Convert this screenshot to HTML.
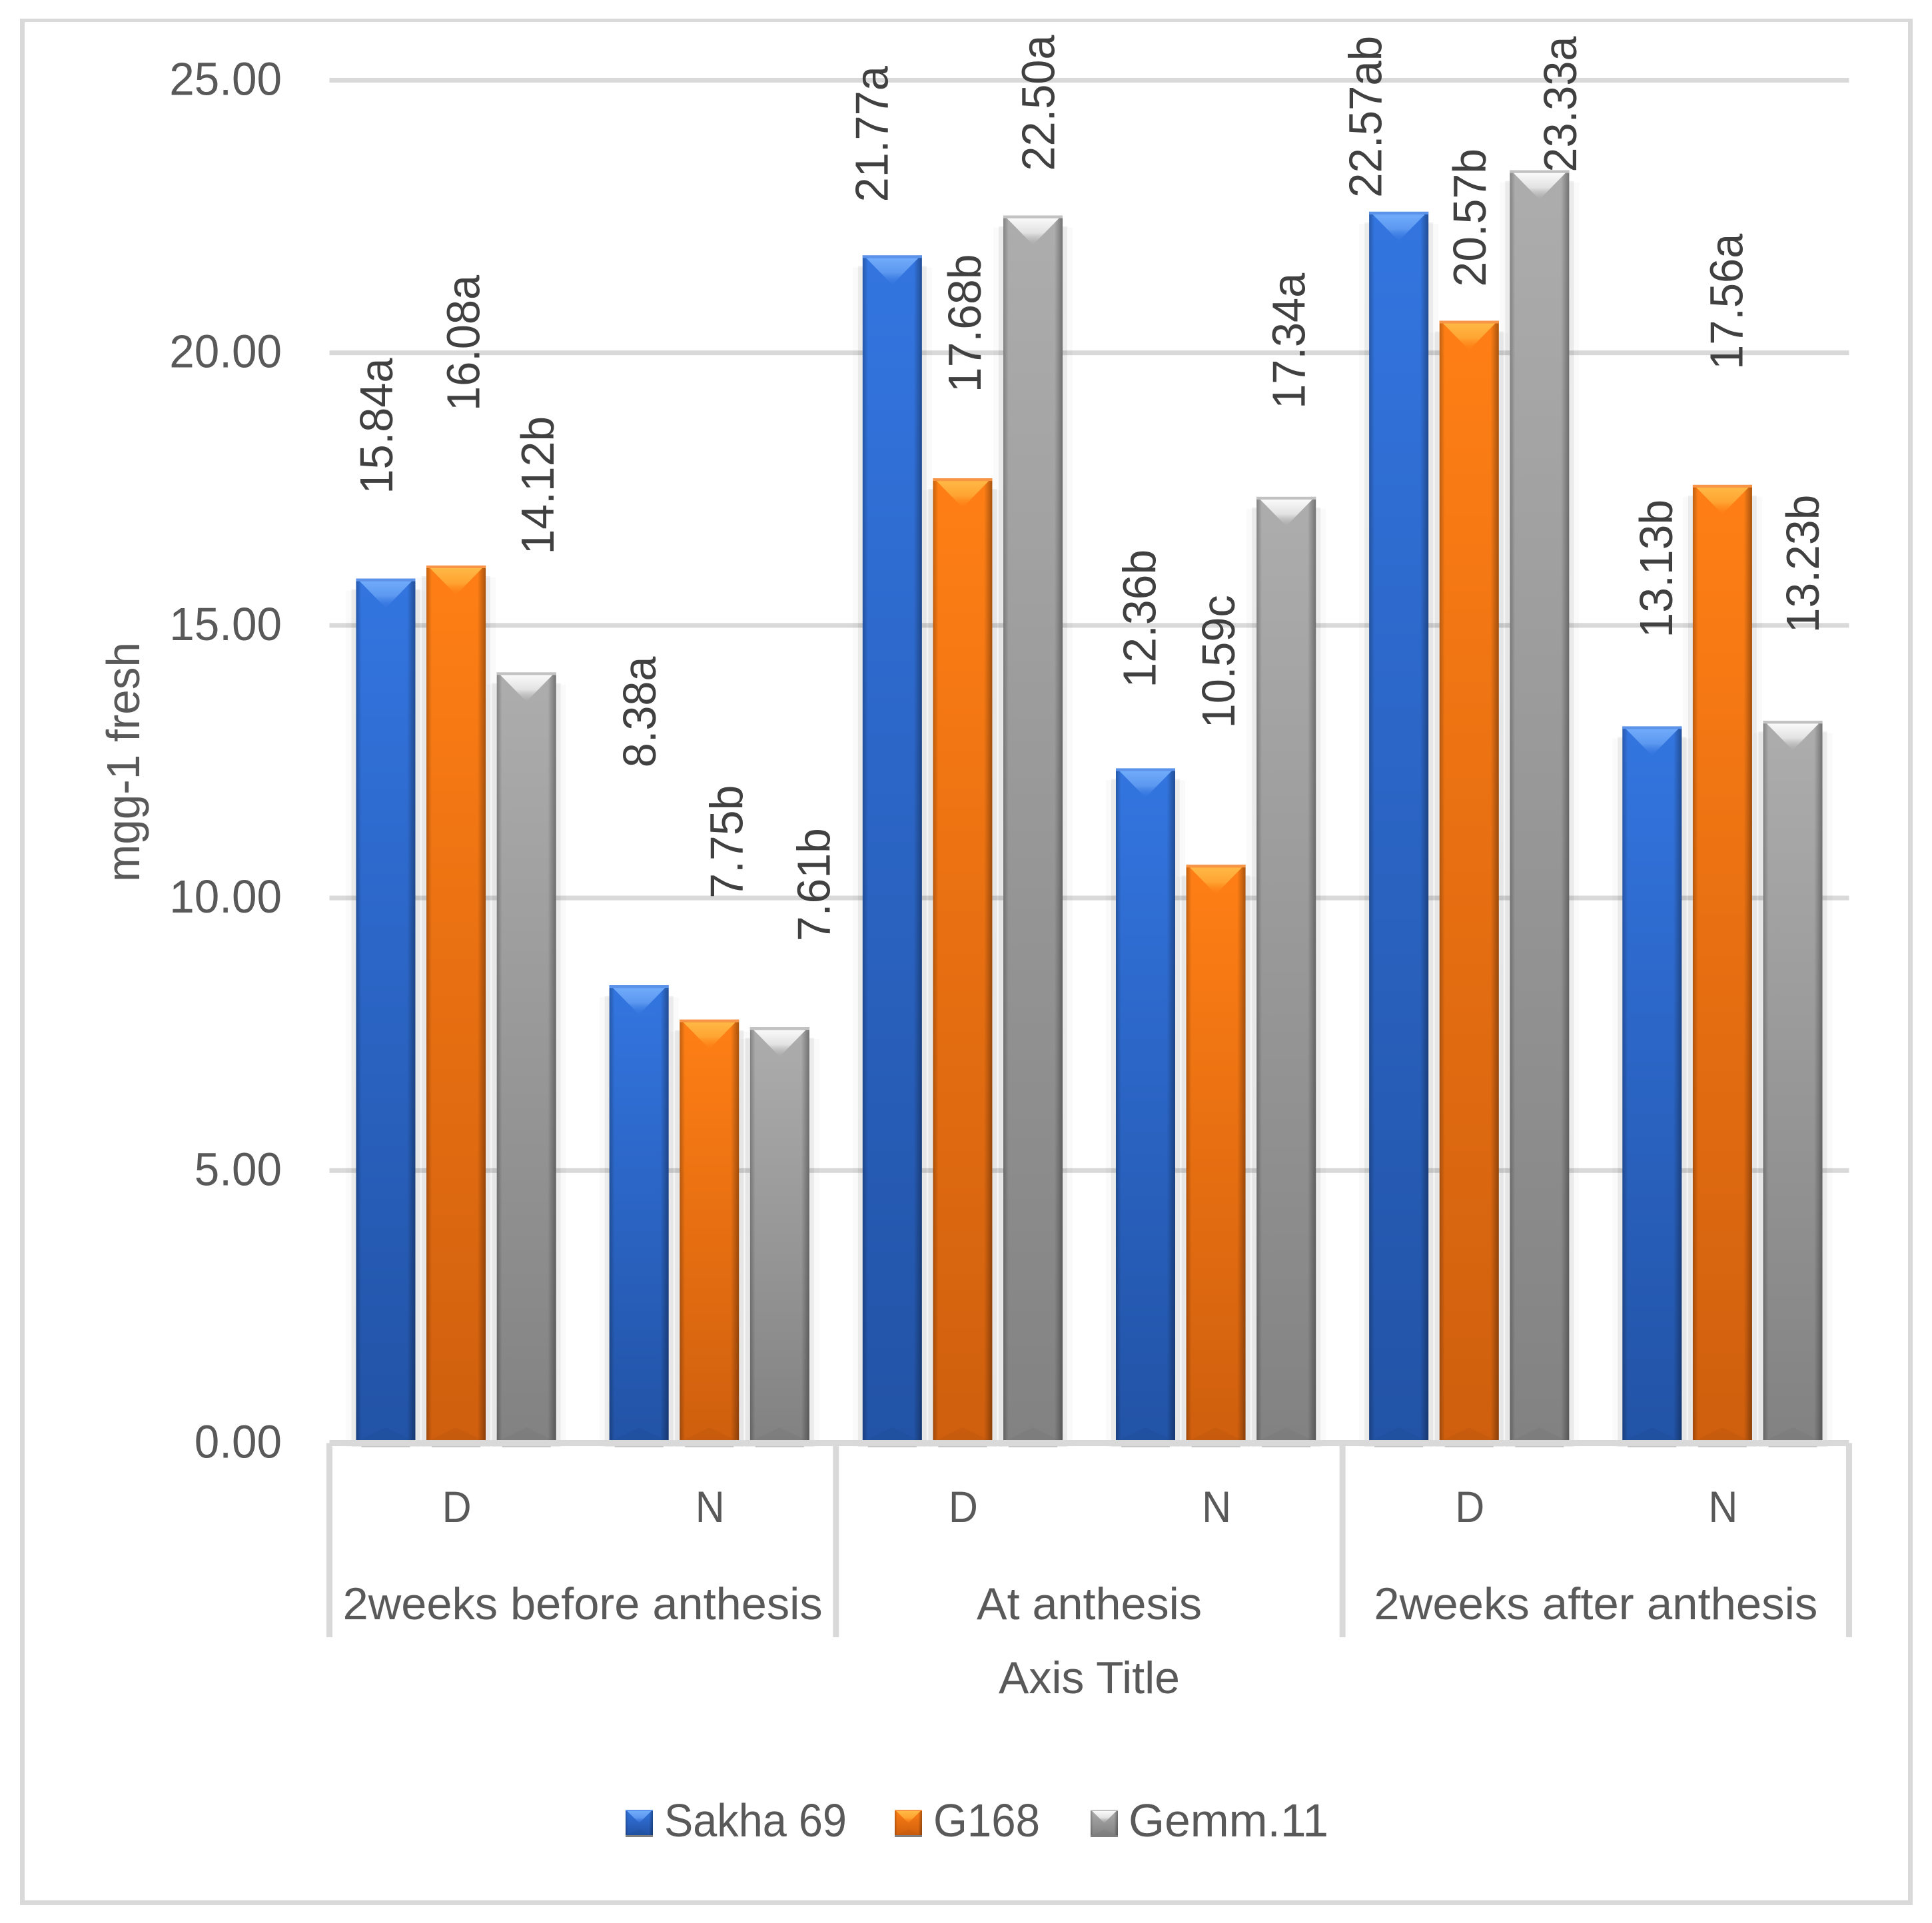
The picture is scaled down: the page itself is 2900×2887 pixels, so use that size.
<!DOCTYPE html>
<html lang="en">
<head>
<meta charset="utf-8">
<title>mgg-1 fresh by growth stage</title>
<style>
html,body{margin:0;padding:0;background:#fff;width:2900px;height:2887px;overflow:hidden}
svg{display:block}
text{font-family:"Liberation Sans",sans-serif}
.axis-text{fill:#595959}
.data-label{fill:#404040}
</style>
</head>
<body>
<svg id="chart" xmlns="http://www.w3.org/2000/svg" width="2900" height="2887" viewBox="0 0 2900 2887">
  <defs>
    <linearGradient id="body-blue" x1="0" y1="0" x2="0" y2="1"><stop offset="0" stop-color="#3375e0"/><stop offset="1" stop-color="#2253a6"/></linearGradient>
    <linearGradient id="body-orange" x1="0" y1="0" x2="0" y2="1"><stop offset="0" stop-color="#ff7f15"/><stop offset="1" stop-color="#cf5f0e"/></linearGradient>
    <linearGradient id="body-gray" x1="0" y1="0" x2="0" y2="1"><stop offset="0" stop-color="#adadad"/><stop offset="1" stop-color="#828282"/></linearGradient>
    <linearGradient id="bevel-blue" x1="0" y1="0" x2="0" y2="1"><stop offset="0" stop-color="#70abfb"/><stop offset="0.55" stop-color="#5c98f0"/><stop offset="1" stop-color="#3375e0" stop-opacity="0.3"/></linearGradient>
    <linearGradient id="bevel-orange" x1="0" y1="0" x2="0" y2="1"><stop offset="0" stop-color="#ffb845"/><stop offset="0.55" stop-color="#ffa432"/><stop offset="1" stop-color="#ff7f15" stop-opacity="0.3"/></linearGradient>
    <linearGradient id="bevel-gray" x1="0" y1="0" x2="0" y2="1"><stop offset="0" stop-color="#fafafa"/><stop offset="0.55" stop-color="#e2e2e2"/><stop offset="1" stop-color="#adadad" stop-opacity="0.3"/></linearGradient>
    <linearGradient id="edge-shade" x1="0" y1="0" x2="1" y2="0">
      <stop offset="0" stop-color="#000" stop-opacity="0.24"/>
      <stop offset="0.09" stop-color="#000" stop-opacity="0"/>
      <stop offset="0.86" stop-color="#000" stop-opacity="0"/>
      <stop offset="1" stop-color="#000" stop-opacity="0.34"/>
    </linearGradient>
  </defs>
  <g fill="#d9d9d9">
    <rect x="30" y="28" width="2841" height="5"/>
    <rect x="30" y="28" width="7" height="2832"/>
    <rect x="2864" y="28" width="7" height="2832"/>
    <rect x="30" y="2853" width="2841" height="7"/>
  </g>
  <g id="grid"></g>
  <g id="bars"></g>
  <g id="axis"></g>
  <g id="labels"></g>
  <g id="legend"></g>
</svg>
<script>
// ---- chart data ----
const categories = ['D', 'N', 'D', 'N', 'D', 'N'];
const groups = ['2weeks before anthesis', 'At anthesis', '2weeks after anthesis'];
const seriesNames = ['Sakha 69', 'G168', 'Gemm.11'];
const sakhaValues = [15.84, 8.38, 21.77, 12.36, 22.57, 13.13];
const g168Values = [16.08, 7.75, 17.68, 10.59, 20.57, 17.56];
const gemmValues = [14.12, 7.61, 22.50, 17.34, 23.33, 13.23];
const sakhaLetters = ['a', 'a', 'a', 'b', 'ab', 'b'];
const g168Letters = ['a', 'b', 'b', 'c', 'b', 'a'];
const gemmLetters = ['b', 'b', 'a', 'a', 'a', 'b'];
const yTicks = [0, 5, 10, 15, 20, 25];
const yTickLabels = ['0.00', '5.00', '10.00', '15.00', '20.00', '25.00'];

// Hand-placed label nudges from the original chart, relative to each bar.
const sakhaLabelNudge = [[10, 127], [25, 327], [-7, 80], [15, 121], [-26, 21], [30, 133]];
const g168LabelNudge = [[35, 232], [50, 182], [27, 129], [28, 205], [25, 51], [30, 173]];
const gemmLabelNudge = [[41, 177], [75, 129], [32, 67], [28, 132], [55, -3], [39, 132]];

// ---- layout ----
const NS = 'http://www.w3.org/2000/svg';
const plotLeft = 494.5, plotRight = 2775.5, yZero = 2166.5, yTop = 120.5, yMax = 25;
const barWidth = 89, barStep = 105.6;
const catWidth = (plotRight - plotLeft) / categories.length;
const yScale = v => yZero - (yZero - yTop) * v / yMax;
const catCenter = c => plotLeft + catWidth * (c + 0.5);
const barCenter = (c, s) => catCenter(c) + (s - 1) * barStep;

const seriesValues = [sakhaValues, g168Values, gemmValues];
const seriesLetters = [sakhaLetters, g168Letters, gemmLetters];
const seriesNudges = [sakhaLabelNudge, g168LabelNudge, gemmLabelNudge];
const seriesKeys = ['blue', 'orange', 'gray'];
const edgeColors = ['#5c93ea', '#f79445', '#c2c2c2'];

const glyphEm = {'.': 0.252, a: 0.479, b: 0.525, c: 0.423};
function fitWidth(str, size) {
  let w = 0;
  for (const ch of str) w += (glyphEm[ch] !== undefined ? glyphEm[ch] : 0.507);
  return w * size;
}
function make(tag, attrs) {
  const el = document.createElementNS(NS, tag);
  for (const k in attrs) el.setAttribute(k, attrs[k]);
  return el;
}
function addText(parent, str, attrs, len) {
  const el = make('text', attrs);
  el.textContent = str;
  if (len) {
    el.setAttribute('textLength', len);
    el.setAttribute('lengthAdjust', 'spacingAndGlyphs');
  }
  parent.appendChild(el);
  return el;
}

const gridG = document.getElementById('grid');
const barsG = document.getElementById('bars');
const axisG = document.getElementById('axis');
const labelsG = document.getElementById('labels');
const legendG = document.getElementById('legend');

// gridlines + y tick labels
yTicks.forEach((t, i) => {
  if (t !== 0) {
    const line = make('rect', {x: plotLeft, y: yScale(t) - 3.5, width: plotRight - plotLeft, height: 7, fill: '#d9d9d9'});
    
    
    gridG.appendChild(line);
  }
  const lab = addText(labelsG, yTickLabels[i], {x: 423, y: yScale(t) + 22, 'text-anchor': 'end', 'font-size': 70, class: 'axis-text'}, fitWidth(yTickLabels[i], 74));
  
  
});

// bars
function drawBevelBar(parent, x, top, w, h, s, bevelDepth, edge) {
  const body = make('rect', {x: x, y: top, width: w, height: h, fill: 'url(#body-' + seriesKeys[s] + ')'});
  
  
  parent.appendChild(body);
  const shade = make('rect', {x: x, y: top, width: w, height: h, fill: 'url(#edge-shade)'});
  
  
  parent.appendChild(shade);
  const bottomBevel = make('polygon', {points: [x + 3, top + h, x + w / 2, top + h - bevelDepth * 0.5, x + w - 3, top + h].join(' '), fill: '#000', 'fill-opacity': 0.035});
  
  
  parent.appendChild(bottomBevel);
  const topBevel = make('polygon', {points: [x + w * 0.06, top + edge, x + w * 0.94, top + edge, x + w / 2, top + edge + bevelDepth].join(' '), fill: 'url(#bevel-' + seriesKeys[s] + ')'});
  
  
  parent.appendChild(topBevel);
  const topEdge = make('rect', {x: x, y: top, width: w, height: edge, fill: edgeColors[s]});
  
  
  parent.appendChild(topEdge);
}

seriesValues.forEach((vals, s) => {
  vals.forEach((v, c) => {
    const g = make('g', {});
    
    
    const cx = barCenter(c, s);
    const x = cx - barWidth / 2;
    const top = yScale(v) - 1.5;
    const bottom = 2163;
    const outerShadow = make('rect', {x: x - 15, y: top + 18, width: barWidth + 30, height: 2172 - top - 18, fill: '#000', 'fill-opacity': 0.02});
    
    
    g.appendChild(outerShadow);
    const innerShadow = make('rect', {x: x - 7, y: top + 16, width: barWidth + 14, height: 2172 - top - 16, fill: '#000', 'fill-opacity': 0.06});
    
    
    g.appendChild(innerShadow);
    drawBevelBar(g, x, top, barWidth, bottom - top, s, 40, 4);
    barsG.appendChild(g);

    const text = v.toFixed(2) + seriesLetters[s][c];
    const nudge = seriesNudges[s][c];
    const bx = cx + nudge[0];
    const by = top - nudge[1];
    const lab = addText(labelsG, text, {x: bx, y: by, transform: 'rotate(-90 ' + bx + ' ' + by + ')', 'font-size': 70, class: 'data-label'}, fitWidth(text, 74));
    
    
  });
});

// x axis line + ticks + shadow under the axis
seriesValues.forEach((vals, s) => {
  vals.forEach((v, c) => {
    const foot = make('rect', {x: barCenter(c, s) - barWidth / 2 + 8, y: 2171, width: barWidth - 16, height: 2, fill: '#000', 'fill-opacity': 0.16});
    
    
    axisG.appendChild(foot);
  });
});
const baseline = make('rect', {x: plotLeft, y: yZero - 4.5, width: plotRight - plotLeft, height: 9, fill: '#d9d9d9'});


axisG.appendChild(baseline);
for (let i = 0; i <= groups.length; i++) {
  const tx = plotLeft + i * (plotRight - plotLeft) / groups.length;
  const tick = make('rect', {x: tx - 4.5, y: yZero, width: 9, height: 2458 - yZero, fill: '#d9d9d9'});
  
  
  axisG.appendChild(tick);
}

// category + group labels
categories.forEach((name, c) => {
  const lab = addText(labelsG, name, {x: catCenter(c) + 1, y: 2285, 'text-anchor': 'middle', 'font-size': 66, class: 'axis-text'}, 44);
  
  
});
const groupLengths = [720, 338, 666];
groups.forEach((name, i) => {
  const cx = plotLeft + (i + 0.5) * (plotRight - plotLeft) / groups.length;
  const lab = addText(labelsG, name, {x: cx, y: 2431, 'text-anchor': 'middle', 'font-size': 68, class: 'axis-text'}, groupLengths[i]);
  
  
});

// axis titles
const xTitle = addText(labelsG, 'Axis Title', {x: 1635, y: 2542, 'text-anchor': 'middle', 'font-size': 68, class: 'axis-text'}, 272);


const yTitle = addText(labelsG, 'mgg-1 fresh', {x: 209, y: 1324, transform: 'rotate(-90 209 1324)', 'font-size': 70, class: 'axis-text'}, 360);



// legend
const legendSwatchX = [939, 1343, 1637];
const legendTextX = [997, 1401, 1694];
const legendTextLen = [274, 160, 300];
seriesNames.forEach((name, s) => {
  const g = make('g', {});
  
  
  drawBevelBar(g, legendSwatchX[s], 2717, 41, 38, s, 18, 2);
  const foot = make('rect', {x: legendSwatchX[s], y: 2755, width: 41, height: 3, fill: '#000', 'fill-opacity': 0.5});
  
  
  g.appendChild(foot);
  const lab = addText(g, name, {x: legendTextX[s], y: 2757, 'font-size': 70, class: 'axis-text'}, legendTextLen[s]);
  
  
  legendG.appendChild(g);
});
</script>
</body>
</html>
